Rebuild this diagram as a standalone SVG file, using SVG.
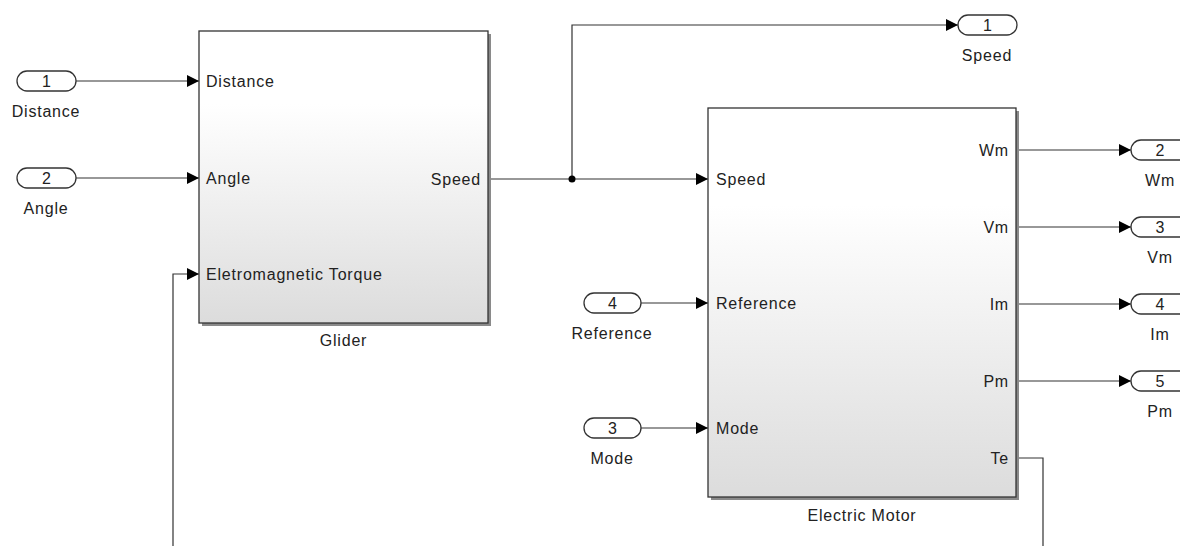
<svg xmlns="http://www.w3.org/2000/svg" width="1180" height="546" viewBox="0 0 1180 546">
<defs>
<linearGradient id="blk" x1="0" y1="0" x2="0" y2="1">
<stop offset="0" stop-color="#ffffff"/>
<stop offset="0.25" stop-color="#ffffff"/>
<stop offset="1" stop-color="#dcdcdc"/>
</linearGradient>
<marker id="arr" markerWidth="13" markerHeight="12" refX="12" refY="6" orient="auto" markerUnits="userSpaceOnUse">
<path d="M0,0 L12,6 L0,12 Z" fill="#000"/>
</marker>
<style>
text{font-family:"Liberation Sans",Arial,sans-serif;font-size:16px;fill:#222;letter-spacing:0.8px}
.mid{text-anchor:middle}
.end{text-anchor:end}
.num{letter-spacing:0}
.pill{fill:#fff;stroke:#333;stroke-width:1.3}
.box{fill:url(#blk);stroke:#333;stroke-width:1.3}
.shadow{fill:#8a8a8a}
.wire{fill:none;stroke:#333;stroke-width:1.2}
</style>
</defs>
<rect width="1180" height="546" fill="#fff"/>

<g id="connectors">
<path class="wire" d="M76,81 H199" marker-end="url(#arr)"/>
<path class="wire" d="M76,178 H199" marker-end="url(#arr)"/>
<path class="wire" d="M173,546 V274 H199" marker-end="url(#arr)"/>
<path class="wire" d="M488,179 H708" marker-end="url(#arr)"/>
<path class="wire" d="M572,179 V25 H958" marker-end="url(#arr)"/>
<circle cx="572" cy="179" r="3.5" fill="#000"/>
<path class="wire" d="M641,303 H708" marker-end="url(#arr)"/>
<path class="wire" d="M641,428 H708" marker-end="url(#arr)"/>
<path class="wire" d="M1016,150 H1131" marker-end="url(#arr)"/>
<path class="wire" d="M1016,227 H1131" marker-end="url(#arr)"/>
<path class="wire" d="M1016,304 H1131" marker-end="url(#arr)"/>
<path class="wire" d="M1016,381 H1131" marker-end="url(#arr)"/>
<path class="wire" d="M1016,458 H1043 V546"/>
</g>

<g id="in-distance">
<rect class="pill" x="17" y="71" width="59" height="20" rx="10"/>
<text class="mid num" x="46.5" y="87">1</text>
<text class="mid" x="46" y="117">Distance</text>
</g>
<g id="in-angle">
<rect class="pill" x="17" y="168" width="59" height="20" rx="10"/>
<text class="mid num" x="46.5" y="184">2</text>
<text class="mid" x="46" y="214">Angle</text>
</g>
<g id="in-reference">
<rect class="pill" x="584" y="293" width="57" height="20" rx="10"/>
<text class="mid num" x="612.5" y="309">4</text>
<text class="mid" x="612" y="339">Reference</text>
</g>
<g id="in-mode">
<rect class="pill" x="584" y="418" width="57" height="20" rx="10"/>
<text class="mid num" x="612.5" y="434">3</text>
<text class="mid" x="612" y="464">Mode</text>
</g>

<g id="glider">
<rect class="shadow" x="202" y="34" width="289" height="292"/>
<rect class="box" x="199" y="31" width="289" height="292"/>
<text x="206" y="87">Distance</text>
<text x="206" y="184">Angle</text>
<text x="206" y="280">Eletromagnetic Torque</text>
<text class="end" x="481" y="185">Speed</text>
<text class="mid" x="343.5" y="346">Glider</text>
</g>

<g id="electric-motor">
<rect class="shadow" x="711" y="111" width="308" height="389"/>
<rect class="box" x="708" y="108" width="308" height="389"/>
<text x="716" y="185">Speed</text>
<text x="716" y="309">Reference</text>
<text x="716" y="434">Mode</text>
<text class="end" x="1009" y="156">Wm</text>
<text class="end" x="1009" y="233">Vm</text>
<text class="end" x="1009" y="310">Im</text>
<text class="end" x="1009" y="387">Pm</text>
<text class="end" x="1009" y="464">Te</text>
<text class="mid" x="862" y="521">Electric Motor</text>
</g>

<g id="out-speed">
<rect class="pill" x="958" y="15" width="59" height="20" rx="10"/>
<text class="mid num" x="987.5" y="31">1</text>
<text class="mid" x="987" y="61">Speed</text>
</g>
<g id="out-wm">
<rect class="pill" x="1131" y="140" width="59" height="20" rx="10"/>
<text class="mid num" x="1160" y="156">2</text>
<text class="mid" x="1160" y="186">Wm</text>
</g>
<g id="out-vm">
<rect class="pill" x="1131" y="217" width="59" height="20" rx="10"/>
<text class="mid num" x="1160" y="233">3</text>
<text class="mid" x="1160" y="263">Vm</text>
</g>
<g id="out-im">
<rect class="pill" x="1131" y="294" width="59" height="20" rx="10"/>
<text class="mid num" x="1160" y="310">4</text>
<text class="mid" x="1160" y="340">Im</text>
</g>
<g id="out-pm">
<rect class="pill" x="1131" y="371" width="59" height="20" rx="10"/>
<text class="mid num" x="1160" y="387">5</text>
<text class="mid" x="1160" y="417">Pm</text>
</g>
</svg>
